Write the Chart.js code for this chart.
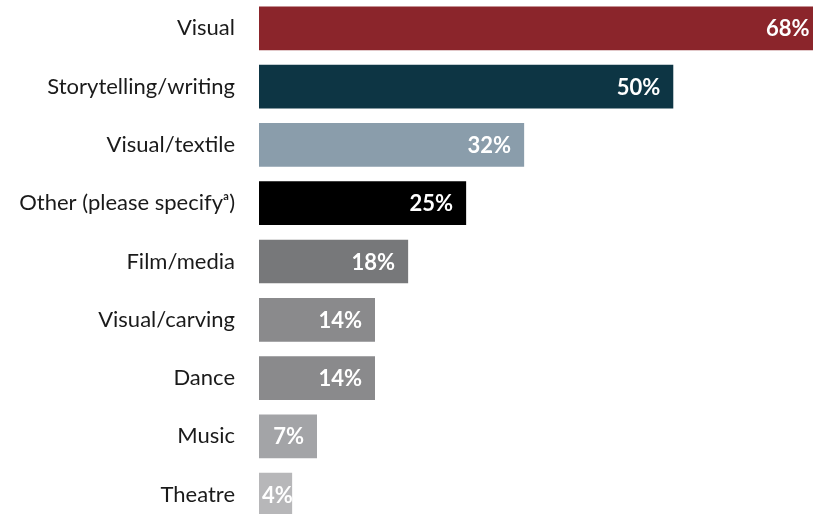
<!DOCTYPE html>
<html>
<head>
<meta charset="utf-8">
<script src="https://cdn.jsdelivr.net/npm/chart.js@4.4.1/dist/chart.umd.min.js"></script>
<style>
  html, body { margin: 0; padding: 0; background: #fff; overflow: hidden; }
  #frame { position: relative; width: 813px; height: 514px; overflow: hidden; }
  #chart { position: absolute; left: 0; top: -14px; }
</style>
</head>
<body>
<div id="frame"><canvas id="chart" width="839" height="551"></canvas></div>
<script>
// Art forms practised (share of respondents, %)
const categories = [
  'Visual',
  'Storytelling/writing',
  'Visual/textile',
  'Other (please specify\u1D43)',
  'Film/media',
  'Visual/carving',
  'Dance',
  'Music',
  'Theatre'
];
const shares = [68, 50, 32, 25, 18, 14, 14, 7, 4];
const barColors = [
  '#8b252b', '#0d3544', '#8a9dab', '#000000', '#77787a',
  '#8a8a8c', '#8a8a8c', '#a3a4a7', '#b7b7b9'
];

// Writes the percentage inside the end of each bar; short bars get it
// from their start instead
const valueLabels = {
  id: 'valueLabels',
  afterDatasetsDraw(chart) {
    const ctx = chart.ctx;
    const meta = chart.getDatasetMeta(0);
    ctx.save();
    ctx.fillStyle = '#ffffff';
    ctx.font = 'bold 22px Lato, "Open Sans", sans-serif';
    ctx.textAlign = 'right';
    ctx.textBaseline = 'middle';
    meta.data.forEach((bar, i) => {
      const text = shares[i] + '%';
      const w = ctx.measureText(text).width;
      const right = Math.max(bar.x - 13, bar.base + 3 + w);
      ctx.fillText(text, right, bar.y + 1);
    });
    ctx.restore();
  }
};

new Chart(document.getElementById('chart'), {
  type: 'bar',
  data: {
    labels: categories,
    datasets: [{
      data: shares,
      backgroundColor: barColors,
      borderWidth: 0,
      categoryPercentage: 1.0,
      barPercentage: 0.75
    }]
  },
  options: {
    indexAxis: 'y',
    responsive: false,
    animation: false,
    layout: { padding: 0 },
    plugins: {
      legend: { display: false },
      tooltip: { enabled: false }
    },
    scales: {
      x: {
        display: false,
        min: 0,
        max: 70
      },
      y: {
        grid: { display: false, drawTicks: true, tickLength: 24 },
        border: { display: false },
        ticks: {
          color: '#1a1a1a',
          padding: 0,
          font: { family: 'Lato, "Open Sans", sans-serif', size: 22 }
        },
        afterFit(scale) { scale.width = 259; }
      }
    }
  },
  plugins: [valueLabels]
});
</script>
</body>
</html>
